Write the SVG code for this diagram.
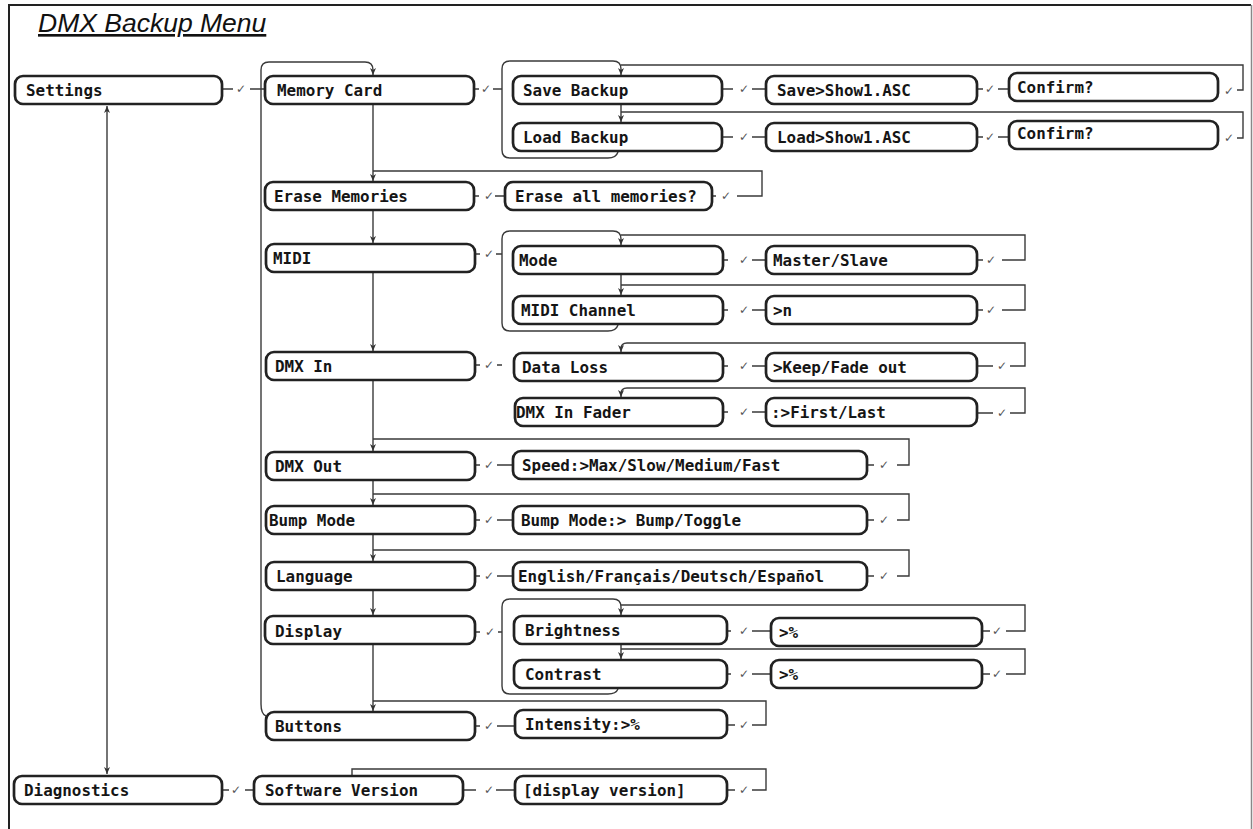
<svg xmlns="http://www.w3.org/2000/svg" width="1253" height="829" viewBox="0 0 1253 829">
<defs>
<marker id="ah" markerUnits="userSpaceOnUse" markerWidth="8" markerHeight="8" viewBox="0 0 8 8" refX="7" refY="4" orient="auto-start-reverse">
<path d="M0,1 L7,4 L0,7 L2,4 z" fill="#333"/>
</marker>
<style>
.box{fill:#fff;stroke:#222;stroke-width:2.7}
.lbl{font-family:"DejaVu Sans Mono","Liberation Mono",monospace;font-weight:bold;font-size:15.9px;fill:#151515}
.ck{font-family:"DejaVu Sans","Noto Sans",sans-serif;font-size:12px;fill:#555}
.ln{fill:none;stroke:#3a3a3a;stroke-width:1.4}
.ar{marker-end:url(#ah)}
.frame{fill:none;stroke:#222;stroke-width:2}
.title{font-family:"Liberation Sans",Arial,sans-serif;font-style:italic;font-size:26.5px;fill:#111;text-decoration:underline}
</style>
</defs>
<rect width="1253" height="829" fill="#fff"/>
<path class="frame" d="M9,829 V5 H1251"/>
<path d="M1251.5,5 V829" stroke="#888" stroke-width="1.5" fill="none"/>
<text class="title" x="38" y="32">DMX Backup Menu</text>

<g id="connectors">
<path class="ln" d="M107,106 V774" marker-start="url(#ah)" marker-end="url(#ah)"/>
<path class="ln ar" d="M266,716 Q261,714 261,704 V70 Q261,62 269,62 H365 Q373,62 373,70 V75"/>
<path class="ln ar" d="M373,104 V181"/>
<path class="ln ar" d="M373,210 V243"/>
<path class="ln ar" d="M373,272 V351"/>
<path class="ln ar" d="M373,380 V451"/>
<path class="ln ar" d="M373,480 V505"/>
<path class="ln ar" d="M373,534 V561"/>
<path class="ln ar" d="M373,590 V615"/>
<path class="ln ar" d="M373,644 V711"/>
<path class="ln" d="M737,196 H762 V171 H373"/>
<path class="ln" d="M897,465 H909 V439 H373"/>
<path class="ln" d="M897,520 H909 V494 H373"/>
<path class="ln" d="M897,576 H909 V550 H373"/>
<path class="ln" d="M752,725 H766 V701 H373"/>
<path class="ln" d="M752,790 H766 V769 H352 V776"/>

<path class="ln ar" d="M618,152 Q616,158 608,158 H510 Q502,158 502,150 V69 Q502,61 510,61 H613 Q621,61 621,69 V75"/>
<path class="ln ar" d="M621,104 V122"/>
<path class="ln" d="M1237,90 H1243 V65 H621"/>
<path class="ln" d="M1237,138 H1243 V112 H621"/>

<path class="ln ar" d="M618,325 Q616,331 608,331 H510 Q502,331 502,323 V239 Q502,231 510,231 H613 Q621,231 621,239 V245"/>
<path class="ln ar" d="M621,274 V295"/>
<path class="ln" d="M1002,260 H1025 V235 H621"/>
<path class="ln" d="M1002,310 H1025 V285 H621"/>

<path class="ln ar" d="M1010,366 H1025 V343 H627 Q621,343 621,349 V352"/>
<path class="ln ar" d="M1010,413 H1025 V388 H627 Q621,388 621,394 V397"/>

<path class="ln ar" d="M618,689 Q616,694 608,694 H510 Q502,694 502,686 V607 Q502,599 510,599 H613 Q621,599 621,607 V615"/>
<path class="ln ar" d="M621,644 V659"/>
<path class="ln" d="M1006,631 H1025 V605 H621"/>
<path class="ln" d="M1006,674 H1025 V649 H621"/>

<path class="ln" d="M222,89 H233 M250,89 H265 M474,89 H479 M493,89 H502 M722,89 H733 M752,89 H766 M977,89 H983 M998,89 H1009"/>
<path class="ln" d="M722,137 H733 M752,137 H766 M977,137 H983 M998,137 H1009"/>
<path class="ln" d="M474,196 H479 M495,196 H505 M712,196 H716"/>
<path class="ln" d="M475,254 H480 M496,254 H502 M723,260 H728 M752,260 H766 M977,260 H983"/>
<path class="ln" d="M723,310 H728 M752,310 H766 M977,310 H983"/>
<path class="ln" d="M475,365 H480 M497,365 H502 M723,366 H728 M752,366 H766 M977,366 H993"/>
<path class="ln" d="M723,412 H728 M752,412 H766 M977,413 H993"/>
<path class="ln" d="M475,465 H480 M497,465 H513 M867,465 H874"/>
<path class="ln" d="M475,520 H480 M497,520 H513 M867,520 H874"/>
<path class="ln" d="M475,576 H480 M497,576 H513 M867,576 H874"/>
<path class="ln" d="M475,632 H480 M498,632 H502 M727,631 H731 M752,631 H771 M982,631 H990"/>
<path class="ln" d="M727,674 H731 M752,674 H771 M982,674 H990"/>
<path class="ln" d="M475,726 H480 M497,726 H515 M727,725 H735"/>
<path class="ln" d="M222,790 H229 M245,790 H254 M463,790 H476 M496,790 H515 M727,790 H735"/>

<g class="ck">
<text x="236" y="93">✓</text><text x="481" y="93">✓</text><text x="739" y="93">✓</text><text x="985" y="93">✓</text><text x="1224" y="95">✓</text>
<text x="739" y="141">✓</text><text x="985" y="141">✓</text><text x="1224" y="142">✓</text>
<text x="484" y="200">✓</text><text x="721" y="200">✓</text>
<text x="484" y="258">✓</text><text x="739" y="264">✓</text><text x="986" y="264">✓</text>
<text x="739" y="314">✓</text><text x="986" y="314">✓</text>
<text x="484" y="369">✓</text><text x="739" y="370">✓</text><text x="997" y="370">✓</text>
<text x="739" y="416">✓</text><text x="997" y="417">✓</text>
<text x="484" y="469">✓</text><text x="879" y="469">✓</text>
<text x="484" y="524">✓</text><text x="879" y="524">✓</text>
<text x="484" y="580">✓</text><text x="879" y="580">✓</text>
<text x="485" y="636">✓</text><text x="739" y="635">✓</text><text x="992" y="635">✓</text>
<text x="739" y="678">✓</text><text x="992" y="678">✓</text>
<text x="484" y="730">✓</text><text x="739" y="729">✓</text>
<text x="231" y="794">✓</text><text x="484" y="794">✓</text><text x="739" y="794">✓</text>
</g>
</g>

<g id="settings"><rect class="box" x="15" y="76" width="207" height="28" rx="8"/><text class="lbl" x="26" y="96">Settings</text></g>
<g id="diagnostics"><rect class="box" x="14" y="776" width="208" height="28" rx="8"/><text class="lbl" x="24" y="796">Diagnostics</text></g>

<g id="memory-card"><rect class="box" x="265" y="76" width="209" height="28" rx="8"/><text class="lbl" x="277" y="96">Memory Card</text></g>
<g id="erase-memories"><rect class="box" x="265" y="182" width="209" height="28" rx="8"/><text class="lbl" x="274" y="202">Erase Memories</text></g>
<g id="midi"><rect class="box" x="266" y="244" width="209" height="28" rx="8"/><text class="lbl" x="273" y="264">MIDI</text></g>
<g id="dmx-in"><rect class="box" x="266" y="352" width="209" height="28" rx="8"/><text class="lbl" x="275" y="372">DMX In</text></g>
<g id="dmx-out"><rect class="box" x="266" y="452" width="209" height="28" rx="8"/><text class="lbl" x="275" y="472">DMX Out</text></g>
<g id="bump-mode"><rect class="box" x="266" y="506" width="209" height="28" rx="8"/><text class="lbl" x="269" y="526">Bump Mode</text></g>
<g id="language"><rect class="box" x="266" y="562" width="209" height="28" rx="8"/><text class="lbl" x="276" y="582">Language</text></g>
<g id="display"><rect class="box" x="265" y="616" width="210" height="28" rx="8"/><text class="lbl" x="275" y="637">Display</text></g>
<g id="buttons"><rect class="box" x="266" y="712" width="209" height="28" rx="8"/><text class="lbl" x="275" y="732">Buttons</text></g>
<g id="software-version"><rect class="box" x="254" y="776" width="209" height="28" rx="8"/><text class="lbl" x="265" y="796">Software Version</text></g>

<g id="save-backup"><rect class="box" x="513" y="76" width="209" height="28" rx="8"/><text class="lbl" x="523" y="96">Save Backup</text></g>
<g id="load-backup"><rect class="box" x="513" y="123" width="209" height="28" rx="8"/><text class="lbl" x="523" y="143">Load Backup</text></g>
<g id="erase-all"><rect class="box" x="505" y="182" width="207" height="28" rx="8"/><text class="lbl" x="515" y="202">Erase all memories?</text></g>
<g id="mode"><rect class="box" x="513" y="246" width="210" height="28" rx="8"/><text class="lbl" x="519" y="266">Mode</text></g>
<g id="midi-channel"><rect class="box" x="513" y="296" width="210" height="28" rx="8"/><text class="lbl" x="521" y="316">MIDI Channel</text></g>
<g id="data-loss"><rect class="box" x="514" y="353" width="209" height="28" rx="8"/><text class="lbl" x="522" y="373">Data Loss</text></g>
<g id="dmx-in-fader"><rect class="box" x="515" y="398" width="208" height="28" rx="8"/><text class="lbl" x="516" y="418">DMX In Fader</text></g>
<g id="speed"><rect class="box" x="513" y="451" width="354" height="28" rx="8"/><text class="lbl" x="522" y="471">Speed:&gt;Max/Slow/Medium/Fast</text></g>
<g id="bump-toggle"><rect class="box" x="513" y="506" width="354" height="28" rx="8"/><text class="lbl" x="521" y="526">Bump Mode:&gt; Bump/Toggle</text></g>
<g id="language-options"><rect class="box" x="513" y="562" width="354" height="28" rx="8"/><text class="lbl" x="518" y="582">English/Français/Deutsch/Español</text></g>
<g id="brightness"><rect class="box" x="514" y="616" width="213" height="28" rx="8"/><text class="lbl" x="525" y="636">Brightness</text></g>
<g id="contrast"><rect class="box" x="514" y="660" width="213" height="28" rx="8"/><text class="lbl" x="525" y="680">Contrast</text></g>
<g id="intensity"><rect class="box" x="515" y="710" width="212" height="28" rx="8"/><text class="lbl" x="525" y="730">Intensity:&gt;%</text></g>
<g id="display-version"><rect class="box" x="515" y="776" width="212" height="28" rx="8"/><text class="lbl" x="523" y="796">[display version]</text></g>

<g id="save-show"><rect class="box" x="766" y="76" width="211" height="28" rx="8"/><text class="lbl" x="777" y="96">Save&gt;Show1.ASC</text></g>
<g id="load-show"><rect class="box" x="766" y="123" width="211" height="28" rx="8"/><text class="lbl" x="777" y="143">Load&gt;Show1.ASC</text></g>
<g id="master-slave"><rect class="box" x="766" y="246" width="211" height="28" rx="8"/><text class="lbl" x="773" y="266">Master/Slave</text></g>
<g id="channel-n"><rect class="box" x="766" y="296" width="211" height="28" rx="8"/><text class="lbl" x="773" y="316">&gt;n</text></g>
<g id="keep-fade"><rect class="box" x="766" y="353" width="211" height="28" rx="8"/><text class="lbl" x="773" y="373">&gt;Keep/Fade out</text></g>
<g id="first-last"><rect class="box" x="766" y="398" width="211" height="28" rx="8"/><text class="lbl" x="771" y="418">:&gt;First/Last</text></g>
<g id="brightness-pct"><rect class="box" x="771" y="618" width="211" height="28" rx="8"/><text class="lbl" x="779" y="638">&gt;%</text></g>
<g id="contrast-pct"><rect class="box" x="771" y="660" width="211" height="28" rx="8"/><text class="lbl" x="779" y="680">&gt;%</text></g>

<g id="confirm-save"><rect class="box" x="1009" y="73" width="209" height="28" rx="8"/><text class="lbl" x="1017" y="93">Confirm?</text></g>
<g id="confirm-load"><rect class="box" x="1009" y="121" width="209" height="28" rx="8"/><text class="lbl" x="1017" y="139">Confirm?</text></g>
</svg>
